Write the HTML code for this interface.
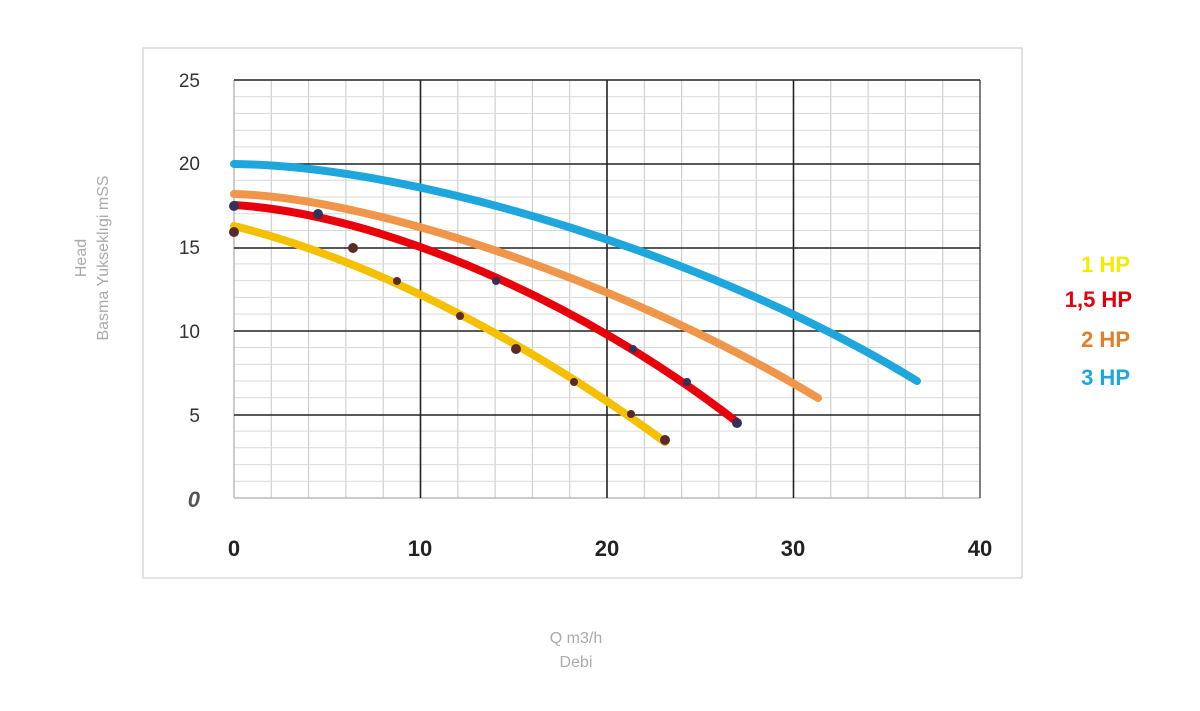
<!DOCTYPE html>
<html><head><style>
body{margin:0;background:#fff;width:1200px;height:706px;overflow:hidden;font-family:"Liberation Sans",sans-serif}
</style></head><body>
<svg width="1200" height="706" xmlns="http://www.w3.org/2000/svg" font-family="Liberation Sans, sans-serif">
<rect x="143" y="48" width="879" height="530" fill="#fff" stroke="#d9d9d9" stroke-width="1.5"/>
<g stroke="#cfcfcf" stroke-width="1.2">
<line x1="271.3" y1="80" x2="271.3" y2="498"/><line x1="308.6" y1="80" x2="308.6" y2="498"/><line x1="345.9" y1="80" x2="345.9" y2="498"/><line x1="383.2" y1="80" x2="383.2" y2="498"/>
<line x1="457.8" y1="80" x2="457.8" y2="498"/><line x1="495.1" y1="80" x2="495.1" y2="498"/><line x1="532.4" y1="80" x2="532.4" y2="498"/><line x1="569.7" y1="80" x2="569.7" y2="498"/>
<line x1="644.3" y1="80" x2="644.3" y2="498"/><line x1="681.6" y1="80" x2="681.6" y2="498"/><line x1="718.9" y1="80" x2="718.9" y2="498"/><line x1="756.2" y1="80" x2="756.2" y2="498"/>
<line x1="830.8" y1="80" x2="830.8" y2="498"/><line x1="868.1" y1="80" x2="868.1" y2="498"/><line x1="905.4" y1="80" x2="905.4" y2="498"/><line x1="942.7" y1="80" x2="942.7" y2="498"/>
</g>
<g stroke="#d9d9d9" stroke-width="1">
<line x1="234" x2="980" y1="96.7" y2="96.7"/><line x1="234" x2="980" y1="113.4" y2="113.4"/><line x1="234" x2="980" y1="130.2" y2="130.2"/><line x1="234" x2="980" y1="146.9" y2="146.9"/>
<line x1="234" x2="980" y1="180.3" y2="180.3"/><line x1="234" x2="980" y1="197" y2="197"/><line x1="234" x2="980" y1="213.7" y2="213.7"/><line x1="234" x2="980" y1="230.5" y2="230.5"/>
<line x1="234" x2="980" y1="263.9" y2="263.9"/><line x1="234" x2="980" y1="280.6" y2="280.6"/><line x1="234" x2="980" y1="297.4" y2="297.4"/><line x1="234" x2="980" y1="314.1" y2="314.1"/>
<line x1="234" x2="980" y1="347.5" y2="347.5"/><line x1="234" x2="980" y1="364.2" y2="364.2"/><line x1="234" x2="980" y1="381" y2="381"/><line x1="234" x2="980" y1="397.7" y2="397.7"/>
<line x1="234" x2="980" y1="431.1" y2="431.1"/><line x1="234" x2="980" y1="447.8" y2="447.8"/><line x1="234" x2="980" y1="464.6" y2="464.6"/><line x1="234" x2="980" y1="481.3" y2="481.3"/>
</g>
<line x1="234" y1="80" x2="234" y2="498" stroke="#bbb" stroke-width="1.5"/>
<line x1="234" y1="498" x2="980" y2="498" stroke="#bbb" stroke-width="1.5"/>
<line x1="980" y1="80" x2="980" y2="498" stroke="#555" stroke-width="1.5"/>
<g stroke="#222" stroke-width="1.6">
<line x1="234" x2="980" y1="80" y2="80"/>
<line x1="234" x2="980" y1="164" y2="164"/><line x1="234" x2="980" y1="248" y2="248"/><line x1="234" x2="980" y1="331" y2="331"/><line x1="234" x2="980" y1="415" y2="415"/>
<line x1="420.5" x2="420.5" y1="80" y2="498"/><line x1="607" x2="607" y1="80" y2="498"/><line x1="793.5" x2="793.5" y1="80" y2="498"/>
</g>
<g fill="none" stroke-width="8" stroke-linecap="round" stroke-linejoin="round">
<path stroke="#f5c000" d="M234,226 C380,262 540,350 665,442"/>
<path stroke="#e8000b" d="M234,205 C380,214 580,300 737,422"/>
<path stroke="#f0964b" d="M234,194 C380,198 640,290 818,398"/>
<path stroke="#1ea7dd" d="M234,164 C420,166 720,260 917,381"/>
</g>
<g fill="#5a2a2a">
<circle cx="234" cy="232" r="5"/><circle cx="353" cy="248" r="5"/><circle cx="397" cy="281" r="4"/><circle cx="460" cy="316" r="4"/><circle cx="516" cy="349" r="5"/><circle cx="574" cy="382" r="4"/><circle cx="631" cy="414" r="4"/><circle cx="665" cy="440" r="5"/>
</g>
<g fill="#33335a">
<circle cx="234" cy="206" r="5"/><circle cx="318" cy="214" r="5"/><circle cx="496" cy="281" r="4"/><circle cx="633" cy="349" r="4"/><circle cx="687" cy="382" r="4"/><circle cx="737" cy="423" r="5"/>
</g>
<g font-size="19" fill="#333" text-anchor="end">
<text x="200" y="87">25</text><text x="200" y="170">20</text><text x="200" y="254">15</text><text x="200" y="338">10</text><text x="200" y="422">5</text>
<text x="200" y="507" font-weight="bold" font-style="italic" font-size="22" fill="#555">0</text>
</g>
<g font-size="22" font-weight="bold" fill="#222" text-anchor="middle">
<text x="234" y="556">0</text><text x="420" y="556">10</text><text x="607" y="556">20</text><text x="793" y="556">30</text><text x="980" y="556">40</text>
</g>
<g font-size="22" font-weight="bold" text-anchor="end">
<text x="1130" y="272" fill="#f2ec00">1 HP</text>
<text x="1132" y="307" fill="#e00010">1,5 HP</text>
<text x="1130" y="347" fill="#e0802b">2 HP</text>
<text x="1130" y="385" fill="#1ea7dd">3 HP</text>
</g>
<g font-size="16" fill="#aaa" text-anchor="middle">
<text transform="translate(86,258) rotate(-90)">Head</text>
<text transform="translate(108,258) rotate(-90)">Basma Yukseklıgi mSS</text>
<text x="576" y="643">Q m3/h</text>
<text x="576" y="667">Debi</text>
</g>
</svg>
</body></html>
